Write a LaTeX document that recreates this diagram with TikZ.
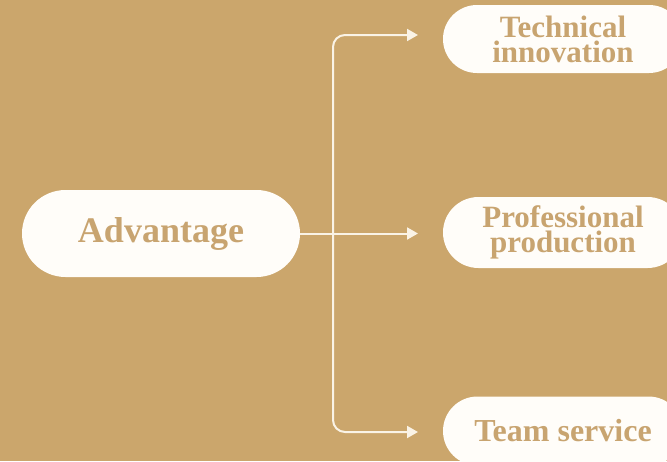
\documentclass[tikz,border=0pt]{standalone}
\usepackage{fontspec}
\setmainfont{Liberation Serif}
\usetikzlibrary{arrows.meta,shapes.misc}
\definecolor{bgtan}{HTML}{CBA66C}
\definecolor{txttan}{HTML}{C8A470}
\definecolor{boxwhite}{HTML}{FFFDF9}
\definecolor{linecream}{HTML}{FAF3E6}
\tikzset{
  pill/.style={rounded rectangle, fill=boxwhite, draw=none, text=txttan, font=\bfseries\fontsize{31}{25}\selectfont, align=center, inner sep=0pt},
  conn/.style={draw=linecream, line width=2pt, rounded corners=12pt, -{Triangle[length=11pt,width=12pt]}}
}
\begin{document}
\begin{tikzpicture}[x=1pt,y=-1pt]
\fill[bgtan] (0,0) rectangle (667,461);
\useasboundingbox (0,0) rectangle (667,461);
\begin{scope}
\clip (0,0) rectangle (667,461);
\node[pill, minimum width=278pt, minimum height=87pt, font=\bfseries\fontsize{36}{36}\selectfont] (adv) at (161,233.5) {Advantage};
\node[pill, minimum width=240pt, minimum height=68pt] (tech) at (563,39) {Technical\\innovation};
\node[pill, minimum width=240pt, minimum height=71pt] (prof) at (563,232.5) {Professional\\production};
\node[pill, minimum width=240pt, minimum height=69pt, font=\bfseries\fontsize{32}{25}\selectfont] (team) at (563,431) {Team service};
\end{scope}
\coordinate (j) at (333,233.5);
\coordinate (t1) at (418,35);
\coordinate (t2) at (418,233.5);
\coordinate (t3) at (418,432);
\draw[conn] (j) |- (t1);
\draw[conn] (j) |- (t3);
\draw[conn] (adv.east) -- (t2);
\end{tikzpicture}
\end{document}
